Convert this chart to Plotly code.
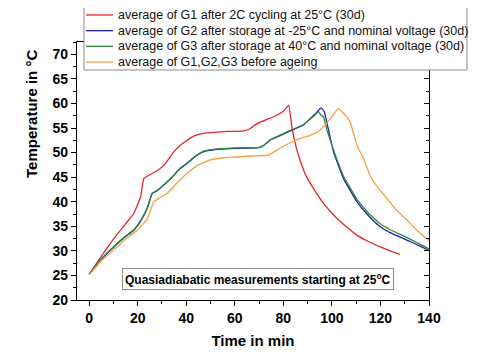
import plotly.graph_objects as go

# ---------------- data ----------------
g1_t = [0, 5, 10, 15, 18.4, 21.2, 22.5, 25, 27.3, 30.8, 34.9, 37.6, 42.4, 46, 51.3, 57, 63.7, 66, 69.2, 73,
        77.4, 80, 82.2, 83.6, 85.6, 87, 89.7, 92.4, 96, 100.7, 105, 110.3, 115, 119.9, 124, 128]
g1_T = [25.2, 28.9, 32.4, 35.5, 37.6, 41, 44.7, 45.5, 46.1, 47.4, 50.2, 51.5, 53.2, 53.8, 54.1, 54.3, 54.4, 54.8, 55.9, 56.7,
        57.6, 58.4, 59.6, 54.9, 50.5, 48.3, 44.9, 42.7, 40.0, 37.3, 35.3, 33.2, 31.9, 30.8, 30.0, 29.3]

g2_t = [0, 5, 10.2, 15, 18.4, 21, 23.9, 26, 28, 30.8, 33.5, 37.6, 40.4, 44, 47.2, 52, 58.2, 64, 69.8, 72,
        74.6, 78, 82.9, 88.3, 91, 93, 95.5, 96.8, 97.7, 100.7, 104.8, 110.3, 115, 119.9, 124, 132.2, 140]
g2_T = [25.2, 28.3, 30.8, 32.9, 34.2, 35.9, 38.6, 41.7, 42.2, 43.4, 44.6, 46.8, 47.8, 49.3, 50.2, 50.6, 50.8, 50.9, 51.0, 51.5,
        52.5, 53.3, 54.4, 55.6, 56.9, 57.8, 59.1, 58.4, 56.6, 50.1, 44.7, 40.0, 37.2, 34.9, 33.7, 31.9, 30.1]

g3_t = [0, 5, 10.2, 15, 18.4, 21, 23.9, 26, 28, 30.8, 33.5, 37.6, 40.4, 44, 47.2, 52, 58.2, 64, 69.8, 72,
        74.6, 78, 82.9, 88.3, 91, 93, 94.5, 95.5, 96.5, 98, 100.7, 104.8, 110.3, 115, 119.9, 124, 132.2, 140]
g3_T = [25.2, 28.4, 30.9, 33.0, 34.3, 36.0, 38.7, 41.8, 42.3, 43.5, 44.7, 46.9, 47.9, 49.4, 50.3, 50.7, 50.9, 51.0, 51.0, 51.5,
        52.6, 53.4, 54.5, 55.7, 56.8, 57.6, 58.4, 57.6, 57.3, 54.5, 50.5, 45.2, 40.5, 37.7, 35.5, 34.3, 32.4, 30.4]

g0_t = [0, 5, 10.2, 15, 19.8, 24, 26.6, 29, 32.2, 36, 40.4, 45, 49.9, 55, 60.9, 67, 73.9, 77, 81.5, 87,
        91, 94, 96.5, 100, 102.7, 104.8, 107.5, 110.3, 113, 115.7, 118, 122.6, 126, 130.8, 135, 140]
g0_T = [25.1, 28.0, 30.2, 32.4, 34.2, 36.5, 40.0, 40.8, 41.7, 43.7, 45.8, 47.5, 48.5, 48.9, 49.1, 49.3, 49.5, 50.4, 51.7, 52.9,
        53.5, 54.2, 55.2, 57.3, 59.0, 58.0, 56.3, 51.5, 48.8, 45.4, 43.5, 40.7, 38.6, 36.3, 34.2, 32.1]

names = ["average of G1 after 2C cycling at 25°C (30d)",
         "average of G2 after storage at -25°C and nominal voltage (30d)",
         "average of G3 after storage at 40°C and nominal voltage (30d)",
         "average of G1,G2,G3 before ageing"]
colors = ["#E8232B", "#1E1EA8", "#2E8B3E", "#F4A045"]

x_ticks = [0, 20, 40, 60, 80, 100, 120, 140]
y_ticks = [20, 25, 30, 35, 40, 45, 50, 55, 60, 65, 70]

# ---------------- layout geometry (window pixels; page body adds an 8px offset) ----------------
OFF = 8
W, H = 485 - OFF, 360 - OFF
L, R, T, B = 77, 429, 42, 300   # plot area edges in window pixels


def px_x(p):
    return (p - L) / (R - L)


def px_y(p):
    return (B - p) / (B - T)


font = "Liberation Sans, Arial, sans-serif"

fig = go.Figure()
series = [(g1_t, g1_T), (g2_t, g2_T), (g3_t, g3_T), (g0_t, g0_T)]
for (t, v), c, n in zip(series, colors, names):
    fig.add_trace(go.Scatter(x=t, y=v, mode="lines", name=n,
                             line=dict(color=c, width=1.3, shape="spline", smoothing=0.3),
                             showlegend=False))
# invisible trace to anchor the right-hand axis
fig.add_trace(go.Scatter(x=[], y=[], yaxis="y2", showlegend=False))

axis_common = dict(showline=True, linecolor="black", linewidth=1.3, showgrid=False, zeroline=False,
                   tickcolor="black", tickwidth=1.2, automargin=False)

fig.update_layout(
    width=W, height=H,
    margin=dict(l=L - OFF, r=485 - R, t=T - OFF, b=360 - B, pad=0),
    paper_bgcolor="white", plot_bgcolor="white",
    font=dict(family=font, color="black"),
    xaxis=dict(range=[-5, 140], tickvals=x_ticks, ticks="outside", ticklen=5, mirror=True,
               minor=dict(dtick=10, tick0=0, ticks="outside", ticklen=3, tickcolor="black"),
               tickfont=dict(size=14, family=font, weight="bold"),
               title=dict(text="<b>Time in min</b>", font=dict(size=15), standoff=10),
               **axis_common),
    yaxis=dict(range=[20, 72.5], tickvals=y_ticks, ticks="outside", ticklen=5,
               minor=dict(dtick=2.5, tick0=20, ticks="outside", ticklen=3, tickcolor="black"),
               tickfont=dict(size=14, family=font, weight="bold"),
               **axis_common),
    yaxis2=dict(range=[20, 72.5], overlaying="y", side="right", tickvals=y_ticks, ticks="inside",
                ticklen=5, showticklabels=False,
                minor=dict(dtick=2.5, tick0=20, ticks="inside", ticklen=3, tickcolor="black"),
                **axis_common),
    showlegend=False,
)

# y-axis title (positioned like the reference)
fig.add_annotation(xref="paper", yref="paper", x=px_x(31), y=px_y(114), text="<b>Temperature in °C</b>",
                   textangle=-90, showarrow=False, font=dict(size=15, family=font), xanchor="center", yanchor="middle")

# manual legend box
shapes = [dict(type="rect", xref="paper", yref="paper", x0=px_x(84), x1=px_x(467), y0=px_y(70), y1=px_y(7),
               line=dict(color="#8c8c8c", width=1), fillcolor="white", layer="above")]
rows = [15, 30.7, 46.3, 62]
for yy, c, n in zip(rows, colors, names):
    shapes.append(dict(type="line", xref="paper", yref="paper", x0=px_x(86), x1=px_x(113),
                       y0=px_y(yy), y1=px_y(yy), line=dict(color=c, width=1.3), layer="above"))
    fig.add_annotation(xref="paper", yref="paper", x=px_x(116), y=px_y(yy), text=n, showarrow=False,
                       xanchor="left", yanchor="middle", font=dict(size=12.5, family=font, color="#111"))

# annotation box
fig.add_annotation(xref="paper", yref="paper", x=px_x(258), y=px_y(278.5),
                   text="<b>Quasiadiabatic measurements starting at 25<sup>o</sup>C</b>",
                   showarrow=False, xanchor="center", yanchor="middle",
                   font=dict(size=12, family=font), bordercolor="#8c8c8c", borderwidth=1, borderpad=2,
                   bgcolor="white")
fig.update_layout(shapes=shapes)

fig.write_html("out.html")
